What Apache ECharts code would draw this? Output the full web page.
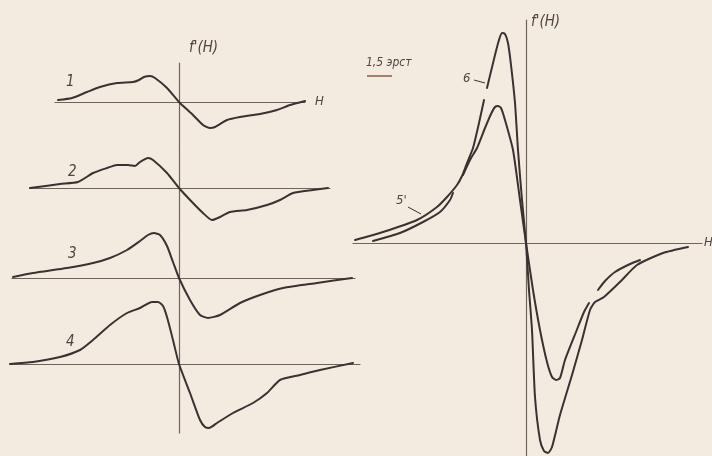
<!DOCTYPE html>
<html><head><meta charset="utf-8">
<script src="https://cdn.jsdelivr.net/npm/echarts@6/dist/echarts.min.js"></script>
<style>html,body{margin:0;padding:0;background:#f4ebe0}#c{width:712px;height:456px}</style>
</head><body><div id="c"></div>
<script>
// ---- DATA: [H, f'(H)] in arbitrary units, each curve relative to its own zero ----
const curve1 = [[-12.1,0.2],[-10.7,0.4],[-9.2,1.0],[-7.9,1.5],[-6.2,1.9],[-4.6,2.0],[-4.0,2.2],[-3.5,2.5],[-2.9,2.6],[-2.4,2.4],[-1.2,1.4],[0,0],[1.4,-1.3],[2.4,-2.3],[3.1,-2.6],[3.6,-2.5],[4.8,-1.8],[6.1,-1.5],[8.1,-1.2],[9.8,-0.8],[11.1,-0.3],[12.6,0.1]];
const curve2 = [[-14.9,0],[-11.9,0.4],[-10.1,0.6],[-8.6,1.5],[-7.2,2.0],[-6.2,2.3],[-5.1,2.3],[-4.4,2.2],[-3.9,2.6],[-3.1,3.0],[-2.6,2.8],[-1.2,1.5],[0,0],[1.3,-1.4],[2.4,-2.5],[3.3,-3.2],[4.1,-2.9],[5.1,-2.4],[6.8,-2.2],[8.8,-1.7],[10.1,-1.2],[11.4,-0.5],[13.4,-0.2],[14.9,0]];
const curve3 = [[-16.6,0.1],[-14.6,0.5],[-11.2,1.0],[-8.6,1.5],[-6.9,2.0],[-5.2,2.8],[-3.9,3.7],[-3.1,4.3],[-2.5,4.5],[-1.9,4.3],[-1.2,3.2],[-0.6,1.6],[0,0],[1.1,-2.2],[2.1,-3.7],[2.9,-4.0],[4.1,-3.7],[6.1,-2.5],[8.1,-1.7],[10.4,-1.0],[13.8,-0.5],[17.3,0]];
const curve4 = [[-16.9,0],[-14.6,0.2],[-11.9,0.7],[-9.9,1.4],[-8.6,2.4],[-6.9,3.9],[-5.2,5.1],[-3.9,5.6],[-2.7,6.2],[-2.1,6.2],[-1.6,5.8],[-1.2,4.7],[-0.6,2.4],[0,0],[1.1,-2.9],[2.1,-5.6],[2.6,-6.3],[3.0,-6.4],[3.8,-5.9],[5.4,-4.9],[7.4,-3.9],[8.8,-2.9],[10.1,-1.6],[12.1,-1.1],[14.1,-0.6],[17.4,0.1]];
const curve5 = [[-15.3,0.2],[-12.6,1.0],[-10.3,2.1],[-8.6,3.1],[-7.6,4.3],[-7.3,5.0],null,
  [-6.3,6.8],[-5.6,8.3],[-4.9,9.5],[-4.1,11.5],[-3.5,12.9],[-3.1,13.6],[-2.8,13.7],[-2.5,13.5],[-2.1,12.3],[-1.3,9.3],[-0.6,4.3],[0,0],[0.7,-4.7],[1.4,-8.7],[2.1,-11.9],[2.6,-13.4],[3.0,-13.7],[3.4,-13.5],[3.9,-11.7],[5.0,-8.9],[5.8,-6.9],[6.3,-6.0],null,
  [7.2,-4.7],[7.9,-3.8],[8.9,-2.9],[10.4,-2.1],[11.4,-1.7]];
const curve6 = [[-17.1,0.3],[-14.3,1.1],[-10.9,2.3],[-8.9,3.6],[-7.9,4.6],[-6.9,5.8],[-6.4,6.7],[-5.9,8.0],[-5.3,9.5],[-4.7,12.0],[-4.2,14.3],null,
  [-3.9,15.5],[-3.1,18.8],[-2.7,20.3],[-2.4,21.0],[-2.1,20.9],[-1.8,20.0],[-1.5,17.8],[-1.1,14.0],[-0.8,9.3],[-0.4,4.3],[0,0],[0.3,-4.7],[0.6,-8.7],[0.9,-15.4],[1.4,-19.7],[1.8,-20.8],[2.2,-21.0],[2.6,-20.4],[3.4,-17.2],[4.6,-13.2],[5.6,-9.7],[6.4,-6.7],[6.9,-5.9],[7.8,-5.4],[9.4,-3.9],[11.1,-2.2],[13.7,-1.0],[16.2,-0.4]];
const leftLabels = ['1','2','3','4'];
const axisTitle = "f'(H)";
const hTitle = 'H';
const scaleText = '1,5 эрст';

// ---- LAYOUT ----
const PX = 10;
const INK = '#3a3230', AX = '#6e625c', TXT = '#4e4440';
const leftX0 = 179;
const bands = [63,145,233,320,433];
const baseY = [102,188,278,364];
const extents = [[55,305],[30,330],[12,355],[10,360]];
const leftCurves = [curve1,curve2,curve3,curve4];

const grids=[],xAxes=[],yAxes=[],series=[];
function axisStyle(){return {show:true,onZero:true,lineStyle:{color:AX,width:1.2}};}
function addPanel(l,r,t,b,ox,oy,curves){
  const i=grids.length;
  grids.push({left:l,top:t,width:r-l,height:b-t,containLabel:false,outerBoundsMode:'none'});
  xAxes.push({gridIndex:i,type:'value',min:(l-ox)/PX,max:(r-ox)/PX,axisLine:axisStyle(),axisTick:{show:false},axisLabel:{show:false},splitLine:{show:false}});
  yAxes.push({gridIndex:i,type:'value',min:(oy-b)/PX,max:(oy-t)/PX,axisLine:axisStyle(),axisTick:{show:false},axisLabel:{show:false},splitLine:{show:false}});
  curves.forEach(c=>series.push({type:'line',xAxisIndex:i,yAxisIndex:i,data:c,smooth:0.2,showSymbol:false,clip:false,connectNulls:false,
    lineStyle:{color:INK,width:2,cap:'round',join:'round'},animation:false,silent:true}));
}
for(let k=0;k<4;k++){
  addPanel(extents[k][0],extents[k][1],bands[k],bands[k+1],leftX0,baseY[k],[leftCurves[k]]);
}
addPanel(353,702,20,456,526,243,[curve5,curve6]);

const tstyle=(s,fs)=>({text:s,font:'italic '+fs+'px "DejaVu Sans Condensed","DejaVu Sans"',fill:TXT});
const labelPos=[[66,75],[68,165],[68,247],[66,335]];
const graphic=[];
leftLabels.forEach((s,k)=>graphic.push({type:'text',left:labelPos[k][0],top:labelPos[k][1],style:tstyle(s,15)}));
graphic.push({type:'text',left:189,top:41,style:tstyle(axisTitle,15)});
graphic.push({type:'text',left:531,top:15,style:tstyle(axisTitle,15)});
graphic.push({type:'text',left:315,top:95,style:tstyle(hTitle,13)});
graphic.push({type:'text',left:704,top:236,style:tstyle(hTitle,13)});
graphic.push({type:'text',left:366,top:57,style:tstyle(scaleText,12)});
graphic.push({type:'line',shape:{x1:367,y1:76,x2:392,y2:76},style:{stroke:'#8a5a4a',lineWidth:1.5}});
graphic.push({type:'text',left:463,top:72,style:tstyle('6',13)});
graphic.push({type:'line',shape:{x1:474,y1:80,x2:485,y2:83},style:{stroke:INK,lineWidth:1}});
graphic.push({type:'text',left:396,top:194,style:tstyle("5'",13)});
graphic.push({type:'line',shape:{x1:408,y1:207,x2:421,y2:214},style:{stroke:INK,lineWidth:1}});

const chart=echarts.init(document.getElementById('c'),null,{renderer:'canvas'});
chart.setOption({backgroundColor:'#f4ebe0',animation:false,grid:grids,xAxis:xAxes,yAxis:yAxes,series:series,graphic:graphic});
</script></body></html>
